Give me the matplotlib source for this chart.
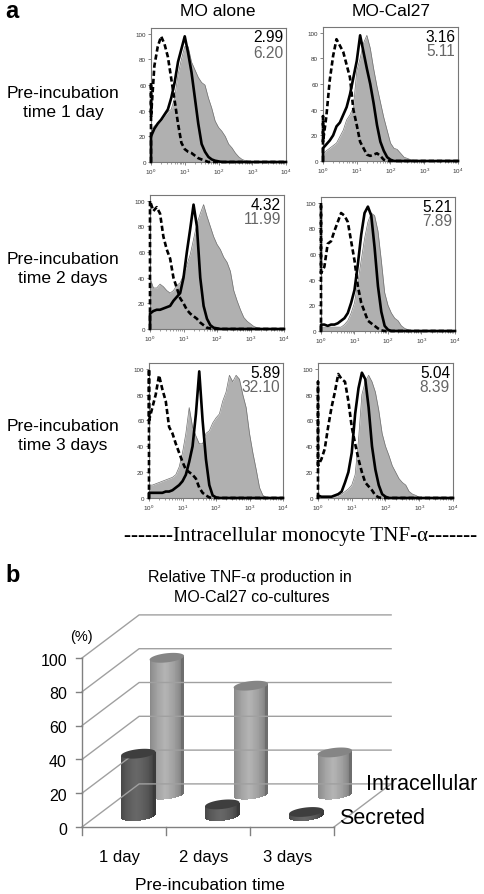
import numpy as np
import matplotlib
matplotlib.use('Agg')
import matplotlib.pyplot as plt
from matplotlib.colors import to_rgb

plt.rcParams['font.family'] = ['Liberation Sans', 'DejaVu Sans']
plt.rcParams['mathtext.default'] = 'regular'

W, H = 485, 895

# Histogram values, read every 0.1 decade starting at 10^0
grey_1d_mo = [25, 28, 30, 32, 36, 39, 41, 50, 68, 80, 90, 90, 78, 72, 66, 62, 60, 50, 42, 32, 27, 24, 20, 14, 11, 7, 4, 2, 1, 0.5]
solid_1d_mo = [20, 26, 30, 33, 37, 41, 50, 62, 78, 88, 98, 85, 70, 50, 30, 14, 8, 4, 2, 1, 0.5]
dash_1d_mo = [35, 75, 90, 98, 92, 82, 65, 48, 30, 15, 10, 8, 7, 5, 3, 2, 1]

grey_1d_cal = [5, 8, 10, 12, 14, 19, 24, 32, 36, 42, 70, 80, 92, 98, 88, 72, 58, 46, 34, 24, 14, 10, 9, 6, 3, 2, 1, 0.5]
solid_1d_cal = [10, 13, 16, 20, 27, 30, 36, 42, 52, 65, 78, 98, 85, 72, 60, 45, 28, 15, 8, 3, 1]
dash_1d_cal = [15, 35, 63, 82, 95, 90, 85, 75, 65, 40, 28, 15, 10, 5, 4, 5, 6, 4, 1]

grey_2d_mo = [40, 32, 32, 35, 33, 30, 28, 30, 34, 36, 42, 50, 58, 70, 82, 90, 97, 88, 80, 72, 66, 62, 56, 52, 45, 30, 22, 15, 9, 6, 4, 2, 1, 0.5]
solid_2d_mo = [12, 14, 15, 15, 16, 17, 18, 22, 25, 28, 40, 60, 78, 97, 80, 40, 18, 8, 3, 1, 0.5]
dash_2d_mo = [100, 92, 95, 90, 72, 62, 55, 40, 32, 24, 20, 15, 12, 10, 8, 5, 3, 1, 0.5]

grey_2d_cal = [3, 3, 3, 3, 3, 3, 3, 5, 8, 14, 22, 38, 55, 72, 85, 92, 90, 78, 55, 30, 20, 14, 10, 8, 4, 2, 1]
solid_2d_cal = [5, 5, 4, 5, 5, 6, 8, 10, 14, 22, 32, 52, 75, 92, 97, 90, 65, 35, 15, 4, 1]
dash_2d_cal = [45, 50, 68, 70, 78, 85, 92, 90, 85, 70, 55, 35, 22, 15, 8, 6, 4, 2, 0.5]

grey_3d_mo = [10, 10, 11, 12, 13, 14, 15, 16, 18, 24, 35, 50, 70, 55, 48, 42, 42, 50, 52, 58, 62, 65, 75, 82, 95, 90, 95, 92, 80, 70, 50, 35, 22, 8, 2, 0.5]
solid_3d_mo = [4, 4, 4, 4, 4, 5, 5, 6, 8, 10, 13, 18, 28, 40, 65, 98, 60, 30, 10, 2, 0.5]
dash_3d_mo = [60, 70, 80, 95, 84, 75, 55, 50, 42, 35, 28, 22, 20, 18, 15, 8, 4, 2, 0.5]

grey_3d_cal = [0.5, 0.5, 0.5, 1, 1, 1, 2, 3, 5, 7, 10, 18, 45, 80, 90, 95, 90, 82, 68, 50, 40, 33, 25, 20, 15, 12, 10, 5, 3, 2, 0.5]
solid_3d_cal = [2, 1, 1, 1, 1, 2, 3, 5, 12, 20, 35, 65, 85, 97, 92, 70, 40, 22, 10, 3, 1]
dash_3d_cal = [25, 30, 38, 55, 70, 82, 96, 92, 90, 75, 55, 42, 30, 20, 12, 9, 6, 2, 0.5]

# height the dashed curve reaches at the left edge
dash_start = [62, 35, 100, 100, 100, 90]

black_values = ['2.99', '3.16', '4.32', '5.21', '5.89', '5.04']
grey_values = ['6.20', '5.11', '11.99', '7.89', '32.10', '8.39']

hist_ticks = [0, 20, 40, 60, 80, 100]
row_labels = ['Pre-incubation\ntime 1 day', 'Pre-incubation\ntime 2 days', 'Pre-incubation\ntime 3 days']
col_labels = ['MO alone', 'MO-Cal27']

# Panel b
days = ['1 day', '2 days', '3 days']
intracellular = [81, 64.5, 25]
secreted = [37, 7, 2.5]
pct_ticks = [0, 20, 40, 60, 80, 100]


def add_axes_px(left, top, right, bottom):
    return fig.add_axes([left / W, 1 - bottom / H, (right - left) / W, (bottom - top) / H])


def put_text(x, y, s, **kw):
    fig.text(x / W, 1 - y / H, s, va='center', **kw)


def curve(vals, start=None):
    x = 10 ** (np.arange(len(vals)) * 0.1)
    first = vals[0] if start is None else start
    xs = np.concatenate([[1, 1], x, [x[-1] * 10 ** 0.1, 1e4]])
    ys = np.concatenate([[0, first], vals, [0, 0]])
    return xs, ys


def draw_hist(box, grey, solid, dash, start, black_txt, grey_txt):
    left, top, right, bottom = box
    ax = add_axes_px(left, top, right, bottom)
    x, y = curve(grey)
    ax.fill_between(x, y, 0, color='#b0b0b0', lw=0)
    ax.plot(x, y, color='#707070', lw=0.5)
    x, y = curve(dash, start)
    ax.plot(x, y, color='black', lw=1.9, ls=(0, (2.0, 1.1)), clip_on=False, zorder=3)
    x, y = curve(solid)
    ax.plot(x, y, color='black', lw=1.9, clip_on=False, zorder=4)
    ax.set_xscale('log')
    ax.set_xlim(1, 1e4)
    ax.set_ylim(0, 104.5)
    ax.set_yticks(hist_ticks)
    ax.set_xticks([1, 10, 100, 1000, 10000])
    ax.set_xticklabels(['$10^{%d}$' % k for k in range(5)])
    ax.tick_params(labelsize=4.5, length=2, width=0.5, pad=1.5, color='#555555', labelcolor='#333333')
    ax.tick_params(which='minor', length=1.2, width=0.4, color='#555555')
    for s in ax.spines.values():
        s.set_color('#777777')
        s.set_linewidth(0.8)
    put_text(right - 3, top + 9, black_txt, ha='right', fontsize=11.2, color='black')
    put_text(right - 3, top + 24, grey_txt, ha='right', fontsize=11.2, color='#666666')


fig = plt.figure(figsize=(W / 100, H / 100), dpi=100)

boxes = [
    (151, 29, 286, 163), (323, 28, 458, 162),
    (150, 196, 284, 330), (321, 198, 455, 332),
    (149, 364, 283, 499), (318, 364, 453, 499),
]
greys = [grey_1d_mo, grey_1d_cal, grey_2d_mo, grey_2d_cal, grey_3d_mo, grey_3d_cal]
solids = [solid_1d_mo, solid_1d_cal, solid_2d_mo, solid_2d_cal, solid_3d_mo, solid_3d_cal]
dashes = [dash_1d_mo, dash_1d_cal, dash_2d_mo, dash_2d_cal, dash_3d_mo, dash_3d_cal]

for i in range(6):
    draw_hist(boxes[i], greys[i], solids[i], dashes[i], dash_start[i], black_values[i], grey_values[i])

put_text(5, 11, 'a', fontsize=17, fontweight='bold')
put_text(218, 11, col_labels[0], ha='center', fontsize=12.5)
put_text(391, 11, col_labels[1], ha='center', fontsize=12.5)
for y, lab in zip([103, 269, 436], row_labels):
    put_text(63, y, lab, ha='center', fontsize=12.6, linespacing=1.32)
put_text(301, 537, '-------Intracellular monocyte TNF-\u03b1-------', ha='center', fontsize=15.2,
         family=['Liberation Serif', 'DejaVu Serif'])

# Panel b: one axes in category / percent units, depth added by an oblique shift
put_text(5, 575, 'b', fontsize=17, fontweight='bold')
put_text(250, 578, 'Relative TNF-\u03b1 production in', ha='center', fontsize=11.5)
put_text(252, 597, 'MO-Cal27 co-cultures', ha='center', fontsize=11.5)

PX_CAT, PX_PCT = 84.0, 1.69
axb = add_axes_px(60, 600, 440, 850)
axb.set_xlim((60 - 82) / PX_CAT, (440 - 82) / PX_CAT)
axb.set_ylim((828 - 850) / PX_PCT, (828 - 600) / PX_PCT)
axb.axis('off')

DX, DY = 0.68, 25.5
GRID = '#a0a0a0'
for v in pct_ticks:
    axb.plot([0, DX, 3 + DX], [v, v + DY, v + DY], color=GRID, lw=1.0)
    axb.plot([-0.07, 0], [v, v], color='#808080', lw=1.0)
    axb.text(-0.18, v - 1.2, str(v), ha='right', va='center', fontsize=11.5, clip_on=False)
axb.plot([3, 3 + DX], [0, DY], color=GRID, lw=1.0)
axb.plot([0, 0], [0, 100], color='#808080', lw=1.0)
axb.plot([0, 3], [0, 0], color='#808080', lw=1.0)
for k in range(4):
    axb.plot([k, k], [0, -5], color='#808080', lw=1.0)
for k, d in enumerate(days):
    axb.text(k + 0.45, -17.5, d, ha='center', va='center', fontsize=12)
axb.text(1.52, -34, 'Pre-incubation time', ha='center', va='center', fontsize=12.5)
axb.text(0.13, 113, '(%)', ha='right', va='center', fontsize=10.5)


def cylinder(cat, depth, value, edge, mid, top):
    cx = cat + depth * DX
    base = depth * DY
    hw, hh, tilt = 0.205, 2.7, 1.1
    xs = np.linspace(cx - hw, cx + hw, 41)
    edge_c = np.array(to_rgb(edge))
    mid_c = np.array(to_rgb(mid))
    for a, b in zip(xs[:-1], xs[1:]):
        u = ((a + b) / 2 - cx) / hw
        arc = hh * np.sqrt(max(1 - u ** 2, 0))
        t = max(1 - abs(u + 0.1) / 0.95, 0) ** 0.45
        axb.fill_between([a, b + 0.002], base + tilt * u - arc, base + value + tilt * u,
                         color=edge_c + (mid_c - edge_c) * t, lw=0)
    ang = np.linspace(0, 2 * np.pi, 60)
    axb.fill(cx + hw * np.cos(ang), base + value + tilt * np.cos(ang) + hh * np.sin(ang),
             color=top, lw=0, zorder=3)


for k in range(3):
    cylinder(k + 0.5, 0.75, intracellular[k], '#6e6e6e', '#b4b4b4', '#858585')
for k in range(3):
    cylinder(k + 0.5, 0.25, secreted[k], '#3a3a3a', '#686868', '#3e3e3e')

put_text(366, 785, 'Intracellular', fontsize=15.5)
put_text(339, 819, 'Secreted', fontsize=15.5)

fig.savefig('out.png', dpi=100)
